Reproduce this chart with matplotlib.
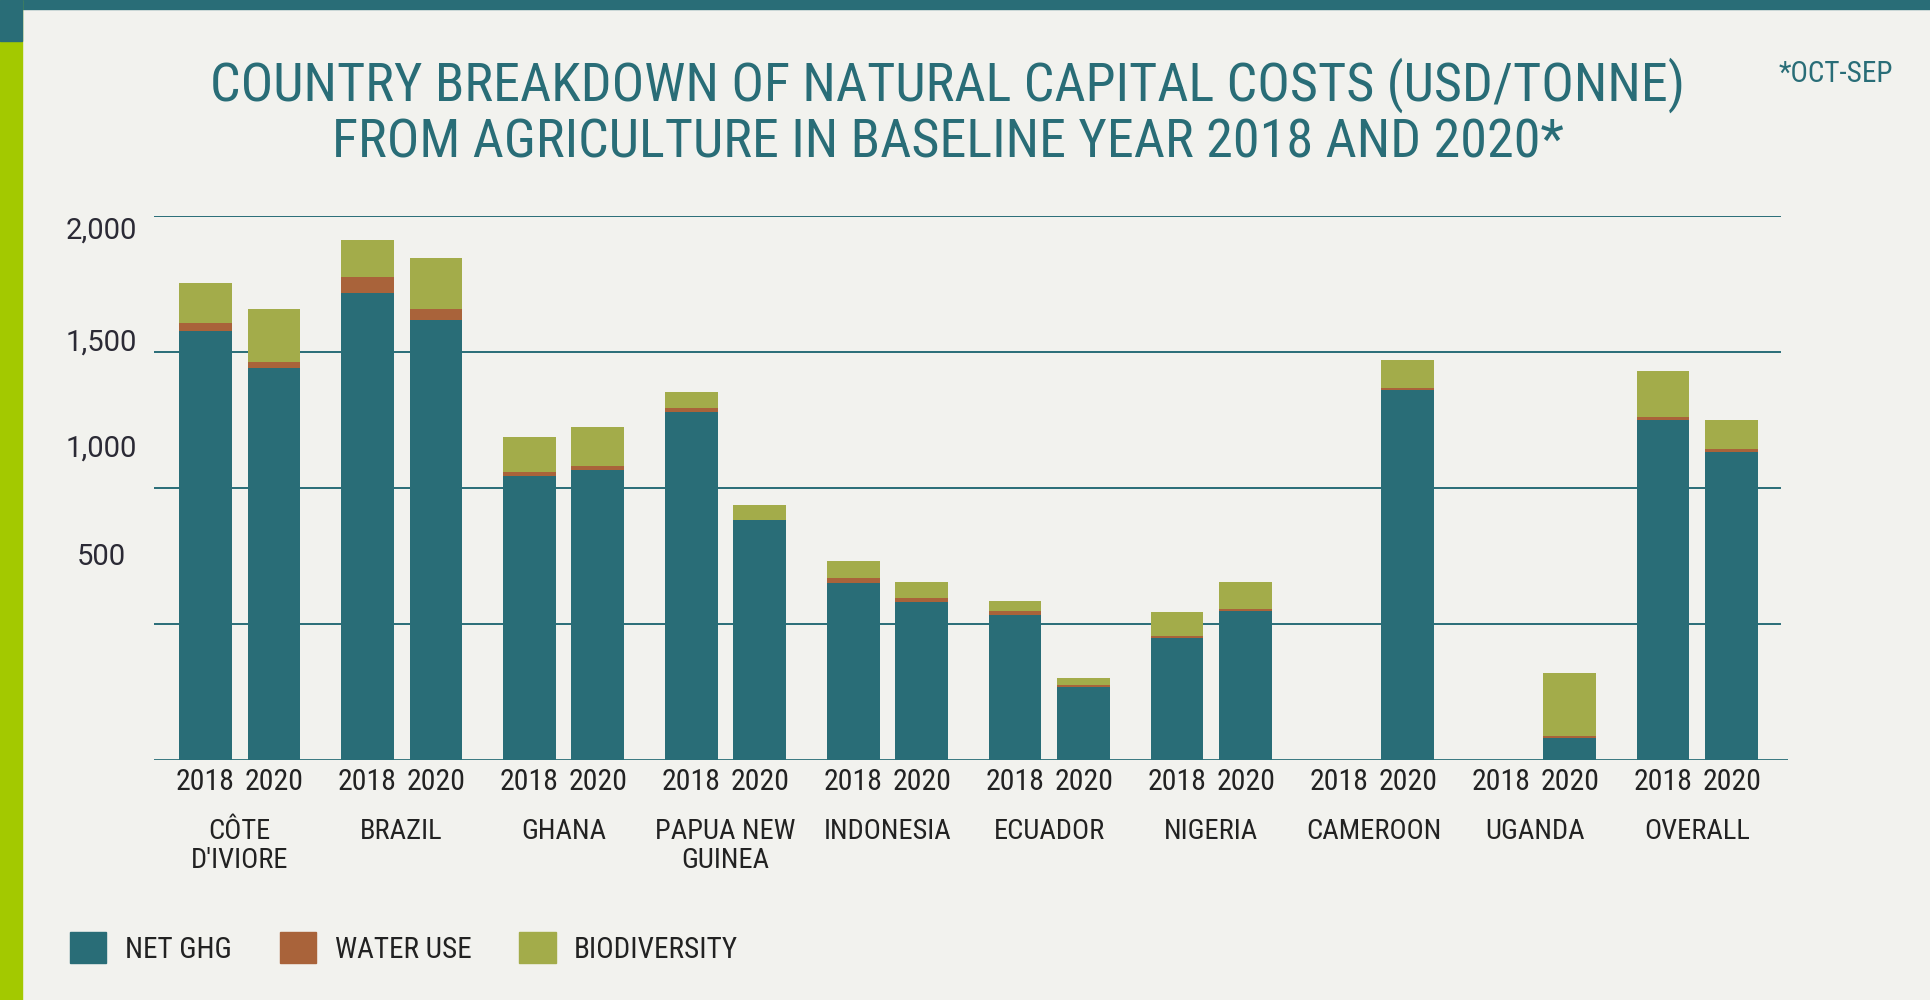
import numpy as np
import matplotlib
matplotlib.use('Agg')
import matplotlib.pyplot as plt
from matplotlib import font_manager as fm
from matplotlib.patches import Patch, Rectangle
from matplotlib.transforms import blended_transform_factory

# ── Data (USD / tonne) ─────────────────────────────────────
countries = ["CÔTE\nD'IVIORE", "BRAZIL", "GHANA", "PAPUA NEW\nGUINEA", "INDONESIA",
             "ECUADOR", "NIGERIA", "CAMEROON", "UGANDA", "OVERALL"]
years = ["2018", "2020"]

ghg_2018 = [1577, 1717, 1044, 1279, 651, 533, 449, 0, 0, 1250]
water_2018 = [30, 59, 15, 15, 18, 15, 7, 0, 0, 11]
bio_2018 = [147, 136, 129, 59, 63, 37, 88, 0, 0, 169]

ghg_2020 = [1441, 1618, 1066, 882, 581, 268, 548, 1360, 81, 1132]
water_2020 = [22, 40, 15, 0, 15, 8, 7, 8, 7, 11]
bio_2020 = [195, 188, 143, 56, 58, 25, 99, 103, 232, 107]

y_labels = ["2,000", "1,500", "1,000", "500"]

# ── Style ──────────────────────────────────────────────────
BG = "#f2f2ee"
TEAL = "#296d77"
RUST = "#a9633a"
OLIVE = "#a3ac4a"
LIME = "#a3c900"
INK = "#222222"

# pick a narrow face if one is around
installed = fm.fontManager.ttflist
names = {f.name for f in installed}
NARROW, STRETCH = None, 'normal'
for cand in ["Roboto Condensed", "Liberation Sans Narrow", "Open Sans Condensed",
             "Noto Sans Condensed", "DejaVu Sans Condensed"]:
    if cand in names:
        NARROW = cand
        break
if NARROW is None:
    condensed = [f for f in installed
                 if str(f.stretch) in ('condensed', 'semi-condensed', 'extra-condensed')
                 or (isinstance(f.stretch, (int, float)) and f.stretch < 100)]
    if condensed:
        NARROW = condensed[0].name
        STRETCH = condensed[0].stretch
    else:
        NARROW = "DejaVu Sans"
        STRETCH = 'condensed'
NFONT = dict(family=[NARROW, "DejaVu Sans"], stretch=STRETCH)

fig = plt.figure(figsize=(19.31, 10), dpi=100, facecolor=BG)

# page decoration: teal strip on top, lime strip on the left
fig.patches.append(Rectangle((0, 1 - 0.009), 1, 0.009, transform=fig.transFigure,
                             color=TEAL, zorder=0))
fig.patches.append(Rectangle((0, 0), 22 / 1931, 1, transform=fig.transFigure,
                             color=LIME, zorder=0))
fig.patches.append(Rectangle((0, 1 - 0.041), 22 / 1931, 0.041, transform=fig.transFigure,
                             color=TEAL, zorder=1))

ax = fig.add_axes([154 / 1931, 0.24, 1634 / 1931, 0.544])
ax.set_facecolor(BG)

x = np.arange(len(countries))
off = 0.2123
w = 0.326

def stack(xpos, ghg, water, bio):
    ghg = np.array(ghg)
    water = np.array(water)
    bio = np.array(bio)
    ax.bar(xpos, ghg, w, color=TEAL, zorder=3)
    ax.bar(xpos, water, w, bottom=ghg, color=RUST, zorder=3)
    ax.bar(xpos, bio, w, bottom=ghg + water, color=OLIVE, zorder=3)

stack(x - off, ghg_2018, water_2018, bio_2018)
stack(x + off, ghg_2020, water_2020, bio_2020)

ax.set_xlim(-0.528, 9.559)
ax.set_ylim(0, 2000)

# gridlines and baseline
for v in [500, 1000, 1500, 2000]:
    ax.axhline(v, xmin=0, xmax=0.995, color=TEAL, lw=1.4, zorder=1)
ax.axhline(0, color=TEAL, lw=2, zorder=4)

for s in ax.spines.values():
    s.set_visible(False)
ax.set_yticks([])

# year ticks under each bar
tick_pos = np.ravel(np.column_stack([x - off, x + off]))
ax.set_xticks(tick_pos)
ax.set_xticklabels(years * len(countries), fontsize=21.5, color=INK, **NFONT)
ax.tick_params(axis='x', length=0, pad=6)

# country names
trans = blended_transform_factory(ax.transData, fig.transFigure)
for xi, name in zip(x, countries):
    ax.text(xi, 1 - 818 / 1000, name, transform=trans, ha='center', va='top',
            fontsize=20.5, color=INK, linespacing=1.1, **NFONT)

# value axis labels
for lab, yp in zip(y_labels, [231, 343, 449, 557]):
    fig.text(101 / 1931, 1 - yp / 1000, lab, ha='center', va='center',
             family="Roboto", fontsize=21, color="#2b2a35")

# title and note
fig.text(948 / 1931, 1 - 85 / 1000,
         "COUNTRY BREAKDOWN OF NATURAL CAPITAL COSTS (USD/TONNE)",
         ha='center', va='center', fontsize=39, color=TEAL, **NFONT)
fig.text(948 / 1931, 1 - 143 / 1000,
         "FROM AGRICULTURE IN BASELINE YEAR 2018 AND 2020*",
         ha='center', va='center', fontsize=39, color=TEAL, **NFONT)
fig.text(1779 / 1931, 1 - 74 / 1000, "*OCT-SEP", ha='left', va='center',
         fontsize=21, color=TEAL, **NFONT)

# legend
handles = [Patch(color=TEAL, label="NET GHG"),
           Patch(color=RUST, label="WATER USE"),
           Patch(color=OLIVE, label="BIODIVERSITY")]
leg = fig.legend(handles=handles, loc='center left', bbox_to_anchor=(70 / 1931, 1 - 948 / 1000),
                 ncol=3, frameon=False, borderpad=0, borderaxespad=0,
                 handlelength=1.25, handleheight=1.25,
                 handletextpad=0.63, columnspacing=1.65,
                 prop=fm.FontProperties(family=[NARROW, "DejaVu Sans"], stretch=STRETCH, size=21))
for t in leg.get_texts():
    t.set_color(INK)

fig.savefig("out.png", dpi=100, facecolor=BG)
